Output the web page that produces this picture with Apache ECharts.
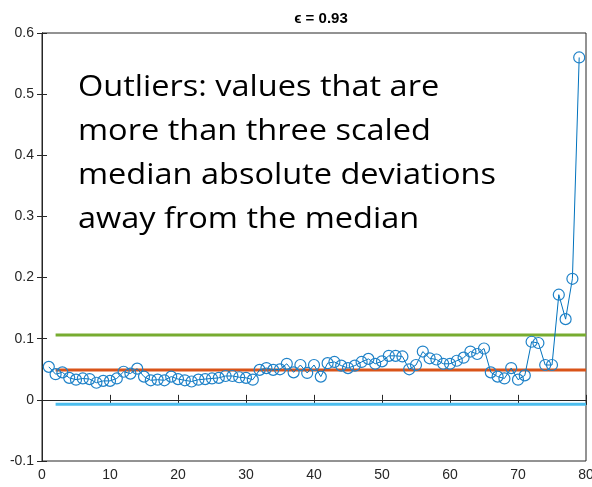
<!DOCTYPE html>
<html><head><meta charset="utf-8">
<script src="https://cdn.jsdelivr.net/npm/echarts@6/dist/echarts.min.js"></script>
<style>html,body{margin:0;padding:0;background:#fff}#c{width:592px;height:487px}</style>
</head><body><div id="c"></div>
<script>
const xValues = [1,2,3,4,5,6,7,8,9,10,11,12,13,14,15,16,17,18,19,20,21,22,23,24,25,26,27,28,29,30,31,32,33,34,35,36,37,38,39,40,41,42,43,44,45,46,47,48,49,50,51,52,53,54,55,56,57,58,59,60,61,62,63,64,65,66,67,68,69,70,71,72,73,74,75,76,77,78,79];
const yValues = [0.054,0.042,0.045,0.036,0.033,0.035,0.034,0.028,0.031,0.031,0.035,0.046,0.043,0.051,0.038,0.032,0.033,0.032,0.038,0.034,0.032,0.030,0.033,0.034,0.035,0.036,0.039,0.039,0.037,0.036,0.033,0.049,0.052,0.049,0.050,0.059,0.045,0.057,0.044,0.057,0.038,0.060,0.062,0.056,0.052,0.056,0.062,0.067,0.059,0.063,0.072,0.072,0.071,0.050,0.057,0.079,0.068,0.066,0.059,0.059,0.064,0.069,0.079,0.075,0.084,0.045,0.038,0.035,0.052,0.033,0.040,0.095,0.093,0.057,0.057,0.172,0.132,0.198,0.560];
const thresholdX = [2, 80];
const upperThreshold = 0.106;
const medianLine = 0.049;
const lowerThreshold = -0.007;
const xTicks = [0,10,20,30,40,50,60,70,80];
const yTickLabels = {"-0.1":"-0.1","0":"0","0.1":"0.1","0.2":"0.2","0.3":"0.3","0.4":"0.4","0.5":"0.5","0.6":"0.6"};
const titleText = "ϵ = 0.93";
const noteText = "Outliers: values that are\nmore than three scaled\nmedian absolute deviations\naway from the median";

const chart = echarts.init(document.getElementById('c'), null, {renderer:'canvas'});
const axisCol = '#262626';
const lbl = {color: axisCol, fontFamily: 'Liberation Sans, Arial, sans-serif', fontSize: 14};
function hline(v, color){
  return {type:'line', data: thresholdX.map(x=>[x, v]), symbol:'none', lineStyle:{color, width:3}, z:1, silent:true};
}
chart.setOption({
  animation:false,
  title:{text: titleText, left: 316, textAlign:'center', top: 6,
    textStyle:{fontFamily:'Liberation Sans, Arial, sans-serif', fontSize:15, fontWeight:'bold', color:'#000'}},
  grid:{left:42, right:6, top:33, bottom:26, show:true, borderColor:axisCol, borderWidth:1, containLabel:false, outerBoundsMode:'none'},
  xAxis:[
    {type:'value', min:0, max:80, interval:10, position:'bottom',
     axisLine:{show:true, lineStyle:{color:axisCol}}, axisTick:{inside:true, length:5, lineStyle:{color:axisCol}},
     splitLine:{show:false}, axisLabel:Object.assign({margin:7, hideOverlap:false, formatter:v=>String(v)}, lbl)},
    {type:'value', min:0, max:80, interval:10, position:'top',
     axisLine:{show:true, lineStyle:{color:axisCol}}, axisTick:{inside:true, length:5, lineStyle:{color:axisCol}},
     splitLine:{show:false}, axisLabel:{show:false}}
  ],
  yAxis:[
    {type:'value', min:-0.1, max:0.6, interval:0.1, position:'left',
     axisLine:{show:true, lineStyle:{color:axisCol}}, axisTick:{inside:true, length:5, lineStyle:{color:axisCol}},
     splitLine:{show:false}, axisLabel:Object.assign({margin:8, formatter:v=>yTickLabels[String(Math.round(v*10)/10)] || String(v)}, lbl)},
    {type:'value', min:-0.1, max:0.6, interval:0.1, position:'right',
     axisLine:{show:true, lineStyle:{color:axisCol}}, axisTick:{inside:true, length:5, lineStyle:{color:axisCol}},
     splitLine:{show:false}, axisLabel:{show:false}}
  ],
  series:[
    hline(upperThreshold, '#77AC30'),
    hline(medianLine, '#D95319'),
    hline(lowerThreshold, '#4DBEEE'),
    {type:'line', data: xValues.map((x,i)=>[x, yValues[i]]), symbol:'circle', symbolSize:11,
     lineStyle:{color:'#0072BD', width:1}, itemStyle:{color:'rgba(0,0,0,0)', borderColor:'#1f82c8', borderWidth:1.2},
     z:3, silent:true}
  ],
  graphic:[{type:'text', left:78, top:65, z:10, scaleX:1.084,
    style:{text: noteText, fontFamily:'Open Sans, sans-serif', fontSize:30, lineHeight:44, fill:'#000'}}]
});
</script></body></html>
